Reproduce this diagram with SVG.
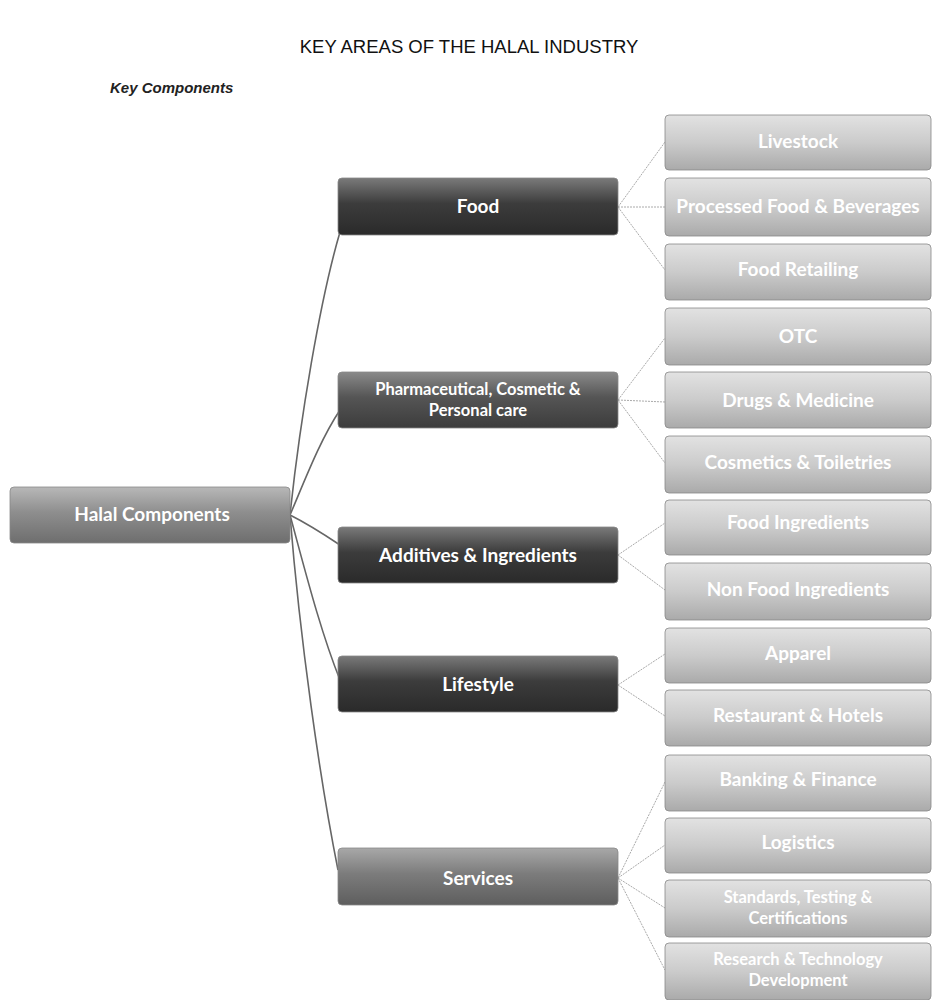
<svg xmlns="http://www.w3.org/2000/svg" width="936" height="1000" viewBox="0 0 936 1000">
<style>
.t{font-family:Lato,"Liberation Sans",sans-serif;font-weight:bold;font-size:19px;fill:#ffffff;text-anchor:middle}
.ts{font-family:Lato,"Liberation Sans",sans-serif;font-weight:bold;font-size:19px;fill:#ffffff;text-anchor:middle}
.t2{font-family:Lato,"Liberation Sans",sans-serif;font-weight:bold;font-size:16.5px;fill:#ffffff;text-anchor:middle}
.c1{stroke:#666;stroke-width:1.6;fill:none}
.c2{stroke:#aaa;stroke-width:1;fill:none;stroke-dasharray:2 1}
.bx{stroke:#888;stroke-width:0.8}
</style>
<defs>
<linearGradient id="gMid" x1="0" y1="0" x2="0" y2="1">
<stop offset="0" stop-color="#b8b8b8"/><stop offset="0.45" stop-color="#8e8e8e"/><stop offset="1" stop-color="#6e6e6e"/>
</linearGradient>
<linearGradient id="gDark" x1="0" y1="0" x2="0" y2="1">
<stop offset="0" stop-color="#7a7a7a"/><stop offset="0.45" stop-color="#3c3c3c"/><stop offset="1" stop-color="#2a2a2a"/>
</linearGradient>
<linearGradient id="gDark2" x1="0" y1="0" x2="0" y2="1">
<stop offset="0" stop-color="#8a8a8a"/><stop offset="0.45" stop-color="#555"/><stop offset="1" stop-color="#3c3c3c"/>
</linearGradient>
<linearGradient id="gSvc" x1="0" y1="0" x2="0" y2="1">
<stop offset="0" stop-color="#a8a8a8"/><stop offset="0.45" stop-color="#7c7c7c"/><stop offset="1" stop-color="#5e5e5e"/>
</linearGradient>
<linearGradient id="gLight" x1="0" y1="0" x2="0" y2="1">
<stop offset="0" stop-color="#e2e2e2"/><stop offset="0.5" stop-color="#cbcbcb"/><stop offset="1" stop-color="#aaaaaa"/>
</linearGradient>
</defs>
<rect width="936" height="1000" fill="#ffffff"/>
<text x="469" y="53" font-family="'Liberation Sans',Arial,sans-serif" font-size="18.5" text-anchor="middle" fill="#111">KEY AREAS OF THE HALAL INDUSTRY</text>
<text x="110" y="93" font-family="'Liberation Sans',Arial,sans-serif" font-size="15" font-style="italic" font-weight="bold" fill="#222">Key Components</text>

<g id="connectors">
<path class="c1" d="M290,515 C300,420 320,300 340,232"/>
<path class="c1" d="M290,515 C305,480 320,440 340,410"/>
<path class="c1" d="M290,515 C310,525 325,535 340,545"/>
<path class="c1" d="M290,515 C305,570 320,630 340,680"/>
<path class="c1" d="M290,515 C300,640 320,780 338,870"/>
<path class="c2" d="M618,207 L665,142 M618,207 L665,207 M618,207 L665,270"/>
<path class="c2" d="M618,400 L665,338 M618,400 L665,402 M618,400 L665,463"/>
<path class="c2" d="M618,555 L665,523 M618,555 L665,590"/>
<path class="c2" d="M618,685 L665,654 M618,685 L665,716"/>
<path class="c2" d="M618,878 L665,782 M618,878 L665,845 M618,878 L665,908 M618,878 L665,970"/>
</g>

<g id="n-halal"><rect class="bx" x="10" y="487" width="280" height="56" rx="4" fill="url(#gMid)"/><text class="t" x="152" y="521">Halal Components</text></g>
<g id="n-food"><rect class="bx" x="338" y="178" width="280" height="57" rx="4" fill="url(#gDark)"/><text class="t" x="478" y="213">Food</text></g>
<g id="n-pharma"><rect class="bx" x="338" y="372" width="280" height="56" rx="4" fill="url(#gDark2)"/><text class="t2" x="478" y="395">Pharmaceutical, Cosmetic &amp;</text><text class="t2" x="478" y="416">Personal care</text></g>
<g id="n-additives"><rect class="bx" x="338" y="527" width="280" height="56" rx="4" fill="url(#gDark)"/><text class="t" x="478" y="562">Additives &amp; Ingredients</text></g>
<g id="n-lifestyle"><rect class="bx" x="338" y="656" width="280" height="56" rx="4" fill="url(#gDark)"/><text class="t" x="478" y="691">Lifestyle</text></g>
<g id="n-services"><rect class="bx" x="338" y="848" width="280" height="57" rx="4" fill="url(#gSvc)"/><text class="t" x="478" y="885">Services</text></g>

<g id="n-livestock"><rect class="bx" x="665" y="115" width="266" height="55" rx="4" fill="url(#gLight)"/><text class="ts" x="798" y="148">Livestock</text></g>
<g id="n-processed"><rect class="bx" x="665" y="178" width="266" height="58" rx="4" fill="url(#gLight)"/><text class="ts" x="798" y="213">Processed Food &amp; Beverages</text></g>
<g id="n-retail"><rect class="bx" x="665" y="244" width="266" height="56" rx="4" fill="url(#gLight)"/><text class="ts" x="798" y="276">Food Retailing</text></g>
<g id="n-otc"><rect class="bx" x="665" y="308" width="266" height="57" rx="4" fill="url(#gLight)"/><text class="ts" x="798" y="343">OTC</text></g>
<g id="n-drugs"><rect class="bx" x="665" y="372" width="266" height="56" rx="4" fill="url(#gLight)"/><text class="ts" x="798" y="407">Drugs &amp; Medicine</text></g>
<g id="n-cosmetics"><rect class="bx" x="665" y="436" width="266" height="57" rx="4" fill="url(#gLight)"/><text class="ts" x="798" y="469">Cosmetics &amp; Toiletries</text></g>
<g id="n-foodingr"><rect class="bx" x="665" y="500" width="266" height="55" rx="4" fill="url(#gLight)"/><text class="ts" x="798" y="529">Food Ingredients</text></g>
<g id="n-nonfood"><rect class="bx" x="665" y="563" width="266" height="57" rx="4" fill="url(#gLight)"/><text class="ts" x="798" y="596">Non Food Ingredients</text></g>
<g id="n-apparel"><rect class="bx" x="665" y="628" width="266" height="55" rx="4" fill="url(#gLight)"/><text class="ts" x="798" y="660">Apparel</text></g>
<g id="n-restaurant"><rect class="bx" x="665" y="690" width="266" height="56" rx="4" fill="url(#gLight)"/><text class="ts" x="798" y="722">Restaurant &amp; Hotels</text></g>
<g id="n-banking"><rect class="bx" x="665" y="755" width="266" height="56" rx="4" fill="url(#gLight)"/><text class="ts" x="798" y="786">Banking &amp; Finance</text></g>
<g id="n-logistics"><rect class="bx" x="665" y="818" width="266" height="55" rx="4" fill="url(#gLight)"/><text class="ts" x="798" y="849">Logistics</text></g>
<g id="n-standards"><rect class="bx" x="665" y="880" width="266" height="57" rx="4" fill="url(#gLight)"/><text class="t2" x="798" y="903">Standards, Testing &amp;</text><text class="t2" x="798" y="924">Certifications</text></g>
<g id="n-research"><rect class="bx" x="665" y="943" width="266" height="57" rx="4" fill="url(#gLight)"/><text class="t2" x="798" y="965">Research &amp; Technology</text><text class="t2" x="798" y="986">Development</text></g>
</svg>
